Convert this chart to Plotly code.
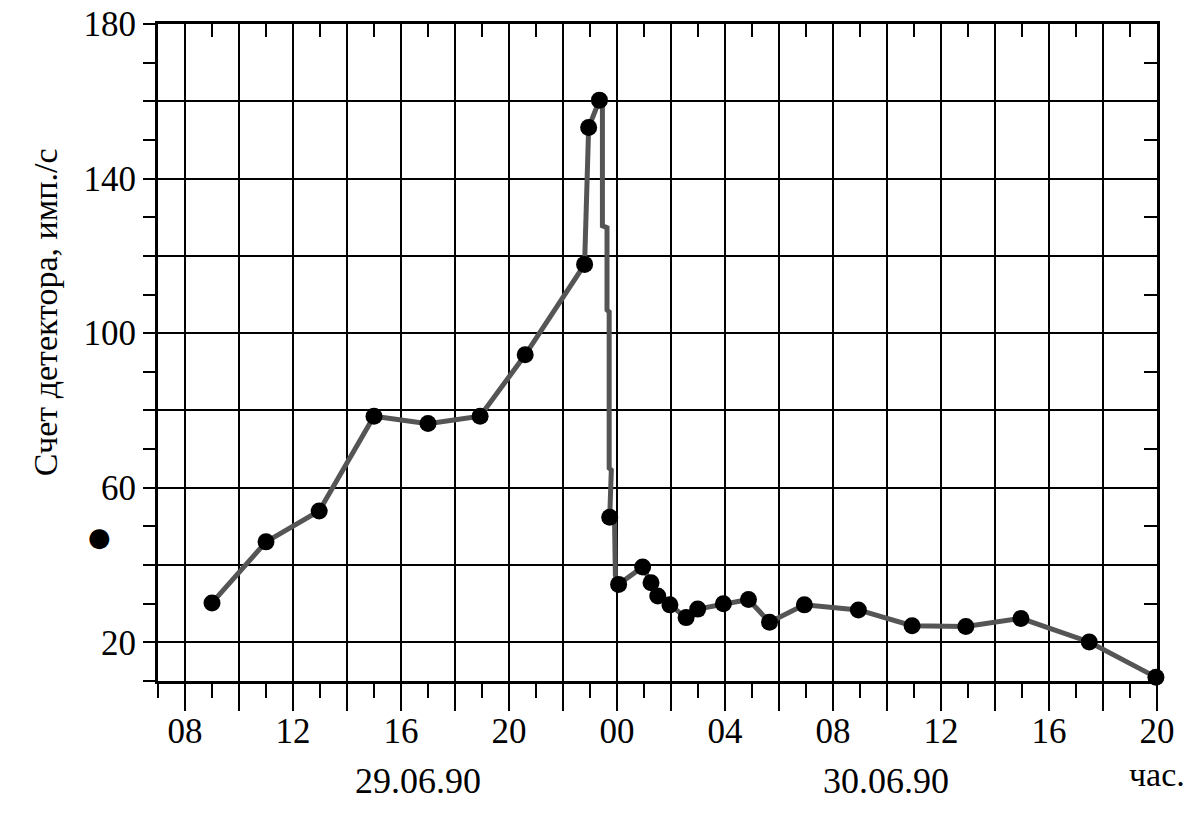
import plotly.graph_objects as go

# ---- data (hours counted from 00:00 of 29.06.90) ----
point_hours = [9.0, 11.0, 12.97, 15.0, 17.0, 18.93, 20.6, 22.8, 22.95, 23.35,
               23.73, 24.06, 24.95, 25.26, 25.51, 25.96, 26.56, 26.99, 27.94,
               28.87, 29.65, 30.94, 32.94, 34.93, 36.92, 38.96, 41.49, 43.96]
point_counts = [30.2, 46.0, 54.0, 78.5, 76.6, 78.5, 94.4, 117.8, 153.2, 160.3,
                52.4, 35.0, 39.5, 35.4, 32.0, 29.7, 26.4, 28.6, 30.0,
                31.1, 25.2, 29.7, 28.4, 24.3, 24.1, 26.2, 20.1, 11.0]

# drawn polyline (includes the stepped descent after the peak)
line_hours = [9.0, 11.0, 12.97, 15.0, 17.0, 18.93, 20.6, 22.8, 22.95, 23.35,
              23.46, 23.46, 23.63, 23.63, 23.71, 23.71, 23.79, 23.73, 23.91,
              23.94, 24.06, 24.95, 25.26, 25.51, 25.96, 26.56, 26.99, 27.94,
              28.87, 29.65, 30.94, 32.94, 34.93, 36.92, 38.96, 41.49, 43.96]
line_counts = [30.2, 46.0, 54.0, 78.5, 76.6, 78.5, 94.4, 117.8, 153.2, 160.3,
               158.9, 127.8, 127.3, 106.0, 105.5, 65.1, 64.6, 52.4, 51.2,
               37.3, 35.0, 39.5, 35.4, 32.0, 29.7, 26.4, 28.6, 30.0,
               31.1, 25.2, 29.7, 28.4, 24.3, 24.1, 26.2, 20.1, 11.0]

# stray dot left of the axis in the original scan
stray_hour = 4.85
stray_count = 47.3

x_range = [7, 44]
y_range = [10, 180]
x_major = list(range(8, 45, 2))
x_labels = [f"{h % 24:02d}" if h % 4 == 0 else "" for h in x_major]
y_major = list(range(20, 181, 20))
y_labels = [str(v) if v % 40 == 20 else "" for v in y_major]

FONT = "Liberation Serif, Times New Roman, serif"

fig = go.Figure()
fig.add_trace(go.Scatter(x=line_hours, y=line_counts, mode="lines",
                         line=dict(color="#555555", width=5),
                         hoverinfo="skip", showlegend=False))
fig.add_trace(go.Scatter(x=point_hours, y=point_counts, mode="markers",
                         marker=dict(color="black", size=17), cliponaxis=False,
                         xaxis="x2", yaxis="y2", showlegend=False))

tick_font = dict(family=FONT, size=35, color="black")

# stray dot lies outside the axes range -> place it in axis-domain fractions
stray_fx = (stray_hour - x_range[0]) / (x_range[1] - x_range[0])
stray_fy = (stray_count - y_range[0]) / (y_range[1] - y_range[0])

fig.update_layout(
    width=1200, height=814,
    margin=dict(l=158, r=43, t=24, b=133, autoexpand=False),
    paper_bgcolor="white", plot_bgcolor="white",
    xaxis=dict(range=x_range, tickmode="array", tickvals=x_major, ticktext=x_labels,
               ticks="outside", ticklen=27, tickwidth=2, tickcolor="black",
               showline=True, linecolor="black", linewidth=3, automargin=False,
               showgrid=True, gridcolor="black", gridwidth=2, zeroline=False,
               tickfont=tick_font, ticklabelstandoff=-10, ticklabeloverflow="allow",
               minor=dict(dtick=1, tick0=0, ticks="outside", ticklen=14,
                          tickwidth=2, tickcolor="black", showgrid=False)),
    yaxis=dict(range=y_range, tickmode="array", tickvals=y_major, ticktext=y_labels,
               ticks="outside", ticklen=12, tickwidth=2, tickcolor="black",
               showline=True, linecolor="black", linewidth=3, automargin=False,
               showgrid=True, gridcolor="black", gridwidth=2, zeroline=False,
               tickfont=tick_font, ticklabeloverflow="allow",
               minor=dict(dtick=10, tick0=0, ticks="outside", ticklen=12,
                          tickwidth=2, tickcolor="black", showgrid=False)),
    xaxis2=dict(range=x_range, overlaying="x", side="top", matches="x",
                ticks="inside", dtick=1, tick0=0, ticklen=13, tickwidth=2,
                tickcolor="black", showticklabels=False, showgrid=False,
                automargin=False,
                zeroline=False, showline=True, linecolor="black", linewidth=3),
    yaxis2=dict(range=y_range, overlaying="y", side="right", matches="y",
                ticks="inside", dtick=10, tick0=0, ticklen=13, tickwidth=2,
                tickcolor="black", showticklabels=False, showgrid=False,
                automargin=False,
                zeroline=False, showline=True, linecolor="black", linewidth=3),
    annotations=[
        dict(text="●", xref="x domain", yref="y domain", x=stray_fx, y=stray_fy,
             xanchor="center", yanchor="middle", showarrow=False,
             font=dict(family="DejaVu Sans", size=26, color="black")),
        dict(text="Счет детектора, имп./с", textangle=-90, xref="paper", yref="paper",
             x=-0.113, y=0.5616, xanchor="center", yanchor="middle", showarrow=False,
             font=dict(family=FONT, size=34, color="black")),
        dict(text="29.06.90", xref="paper", yref="paper", x=0.26, y=-0.152,
             xanchor="center", yanchor="middle", showarrow=False,
             font=dict(family=FONT, size=36, color="black")),
        dict(text="30.06.90", xref="paper", yref="paper", x=0.729, y=-0.152,
             xanchor="center", yanchor="middle", showarrow=False,
             font=dict(family=FONT, size=36, color="black")),
        dict(text="час.", xref="paper", yref="paper", x=1.0, y=-0.142,
             xanchor="center", yanchor="middle", showarrow=False,
             font=dict(family=FONT, size=34, color="black")),
    ],
)

# remove the browser's default 8px body margin so the figure sits at (0, 0)
fig.write_html("out.html", config={"displayModeBar": False},
               post_script="document.body.style.margin='0';")
